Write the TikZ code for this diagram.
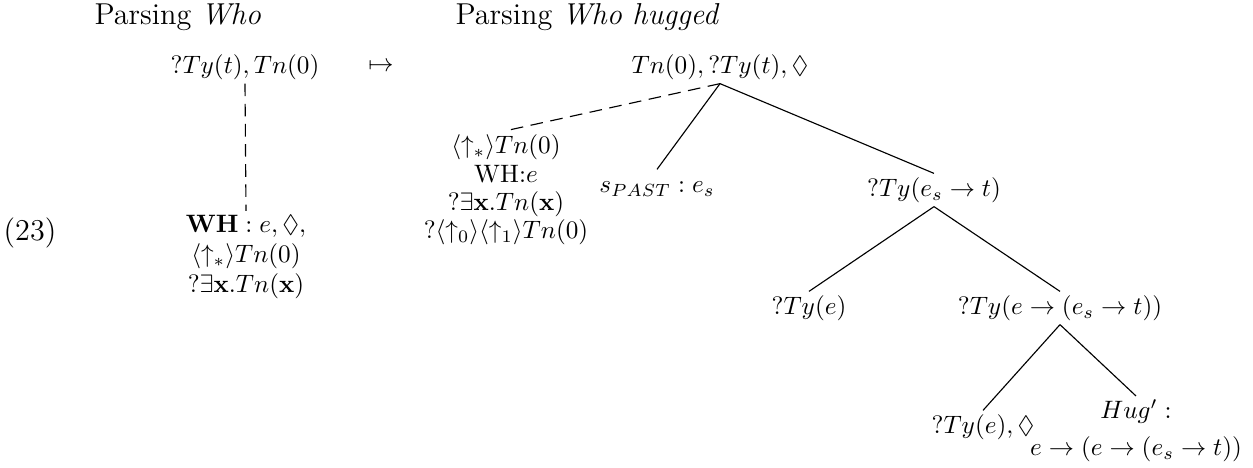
\documentclass[tikz,border=0pt]{standalone}
\usepackage{amssymb}
\begin{document}
\begin{tikzpicture}[x=0.397pt,y=-0.397pt,
  every node/.style={inner sep=1.4pt},
  tn/.style={text height=7.5pt,text depth=2.5pt},
  ml/.style={align=center},
  big/.style={font=\large},
  edge/.style={line width=0.45pt},
  dashedge/.style={line width=0.45pt,dash pattern=on 5pt off 3pt}]
\useasboundingbox (0,0) rectangle (1253,467);
% titles
\node[big,anchor=west,inner sep=0pt] (t1) at (94,17) {Parsing \textit{Who}};
\node[big,anchor=west,inner sep=0pt] (t2) at (455,17) {Parsing \textit{Who hugged}};
\node[big] (num) at (30,233) {(23)};
% first tree
\node[tn] (a0) at (245,67) {$?Ty(t), Tn(0)$};
\node (map) at (381,67) {$\mapsto$};
\node[ml] (awh) at (246,257) {$\mathbf{WH}: e, \Diamond,$\\ $\langle\uparrow_*\rangle Tn(0)$\\ $?\exists\mathbf{x}.Tn(\mathbf{x})$};
\draw[dashedge] (a0.south) -- (awh.north);
% second tree
\node[tn] (root) at (720,67) {$Tn(0), ?Ty(t), \Diamond$};
\node[ml] (lnode) at (506,190) {$\langle\uparrow_*\rangle Tn(0)$\\[-0.7pt] WH:$e$\\[-0.7pt] $?\exists\mathbf{x}.Tn(\mathbf{x})$\\[-0.7pt] $?\langle\uparrow_0\rangle\langle\uparrow_1\rangle Tn(0)$};
\node[tn] (spast) at (657,186) {$s_{PAST} : e_s$};
\node[tn] (tyest) at (934,190) {$?Ty(e_s \to t)$};
\node[tn] (tye) at (809,308) {$?Ty(e)$};
\node[tn] (tyeest) at (1060,308) {$?Ty(e \to (e_s \to t))$};
\node[tn] (tye2) at (983,427) {$?Ty(e), \Diamond$};
\node[ml] (hug) at (1136,431) {$Hug' :$\\[2.6pt] $e \to (e \to (e_s \to t))$};
\draw[dashedge] (root.south) -- (lnode.north);
\draw[edge] (root.south) -- (spast.north);
\draw[edge] (root.south) -- (tyest.north);
\draw[edge] (tyest.south) -- (tye.north);
\draw[edge] (tyest.south) -- (tyeest.north);
\draw[edge] (tyeest.south) -- (tye2.north);
\draw[edge] (tyeest.south) -- (hug.north);
\end{tikzpicture}
\end{document}
